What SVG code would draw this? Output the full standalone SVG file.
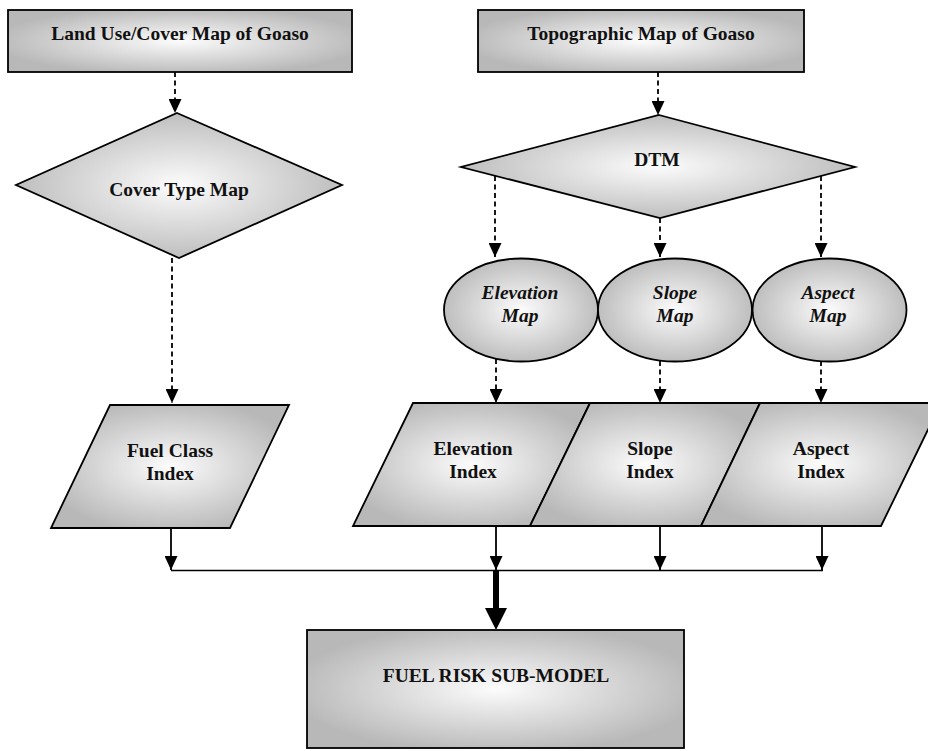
<svg xmlns="http://www.w3.org/2000/svg" width="928" height="751" viewBox="0 0 928 751">
<style>
.shape{fill:url(#g);stroke:#000;stroke-width:1.8}
.t{font-family:"Liberation Serif","Times New Roman",serif;font-weight:bold;font-size:19.5px;fill:#111;text-anchor:middle}
.i{font-style:italic}
.dash{stroke:#000;stroke-width:1.8;stroke-dasharray:5 3.5;fill:none;marker-end:url(#ah)}
.solid{stroke:#000;stroke-width:1.8;fill:none;marker-end:url(#ah)}
.bus{stroke:#000;stroke-width:1.6;fill:none}
</style>
<defs>
<radialGradient id="g" cx="50%" cy="50%" r="55%">
<stop offset="0%" stop-color="#fcfcfc"/>
<stop offset="100%" stop-color="#b8b8b8"/>
</radialGradient>
<marker id="ah" markerUnits="userSpaceOnUse" viewBox="0 0 14 13" refX="14" refY="6.5" markerWidth="14" markerHeight="13" orient="auto">
<path d="M0,0 L14,6.5 L0,13 z" fill="#000"/>
</marker>
</defs>
<rect width="928" height="751" fill="#fff"/>

<g id="connectors">
<line class="dash" x1="175" y1="72" x2="175" y2="113"/>
<line class="dash" x1="658" y1="72" x2="658" y2="115"/>
<line class="dash" x1="495" y1="176" x2="495" y2="257"/>
<line class="dash" x1="660" y1="218" x2="660" y2="257"/>
<line class="dash" x1="821" y1="176" x2="821" y2="257"/>
<line class="dash" x1="172" y1="258" x2="172" y2="403"/>
<line class="dash" x1="496" y1="359" x2="496" y2="403"/>
<line class="dash" x1="660" y1="361" x2="660" y2="403"/>
<line class="dash" x1="821" y1="361" x2="821" y2="403"/>
<line class="solid" x1="171" y1="528" x2="171" y2="570"/>
<line class="solid" x1="496" y1="526" x2="496" y2="570"/>
<line class="solid" x1="660" y1="526" x2="660" y2="570"/>
<line class="solid" x1="822" y1="526" x2="822" y2="570"/>
<line class="bus" x1="171" y1="570.5" x2="823" y2="570.5"/>
<path d="M493,570.5 L499,570.5 L499,608 L507,608 L496,630 L485,608 L493,608 z" fill="#000"/>
</g>

<g id="landuse">
<rect class="shape" x="8" y="10" width="344" height="62"/>
<text class="t" x="180" y="40">Land Use/Cover Map of Goaso</text>
</g>
<g id="topo">
<rect class="shape" x="478" y="10" width="326" height="62"/>
<text class="t" x="641" y="40">Topographic Map of Goaso</text>
</g>
<g id="covertype">
<polygon class="shape" points="177,113 342,185 179,258 16,185"/>
<text class="t" x="179" y="196">Cover Type Map</text>
</g>
<g id="dtm">
<polygon class="shape" points="659,115 855,167 660,218 461,167"/>
<text class="t" x="657" y="166">DTM</text>
</g>
<g id="elevmap">
<ellipse class="shape" cx="521" cy="310" rx="77" ry="51.5"/>
<text class="t i" x="520" y="299">Elevation</text>
<text class="t i" x="520" y="322">Map</text>
</g>
<g id="slopemap">
<ellipse class="shape" cx="675" cy="310" rx="77" ry="51.5"/>
<text class="t i" x="675" y="299">Slope</text>
<text class="t i" x="675" y="322">Map</text>
</g>
<g id="aspectmap">
<ellipse class="shape" cx="829.5" cy="310" rx="77" ry="51.5"/>
<text class="t i" x="828" y="299">Aspect</text>
<text class="t i" x="828" y="322">Map</text>
</g>
<g id="fuelclass">
<polygon class="shape" points="110,405 289,405 230,528 51,528"/>
<text class="t" x="170" y="457">Fuel Class</text>
<text class="t" x="170" y="480">Index</text>
</g>
<g id="elevindex">
<polygon class="shape" points="413,403 590,403 530,526 353,526"/>
<text class="t" x="473" y="455">Elevation</text>
<text class="t" x="473" y="478">Index</text>
</g>
<g id="slopeindex">
<polygon class="shape" points="590,403 760,403 701,526 530,526"/>
<text class="t" x="650" y="455">Slope</text>
<text class="t" x="650" y="478">Index</text>
</g>
<g id="aspectindex">
<polygon class="shape" points="760,403 941,403 881,526 701,526"/>
<text class="t" x="821" y="455">Aspect</text>
<text class="t" x="821" y="478">Index</text>
</g>
<g id="fuelrisk">
<rect class="shape" x="307" y="630" width="377" height="118"/>
<text class="t" x="496" y="682">FUEL RISK SUB-MODEL</text>
</g>
</svg>
